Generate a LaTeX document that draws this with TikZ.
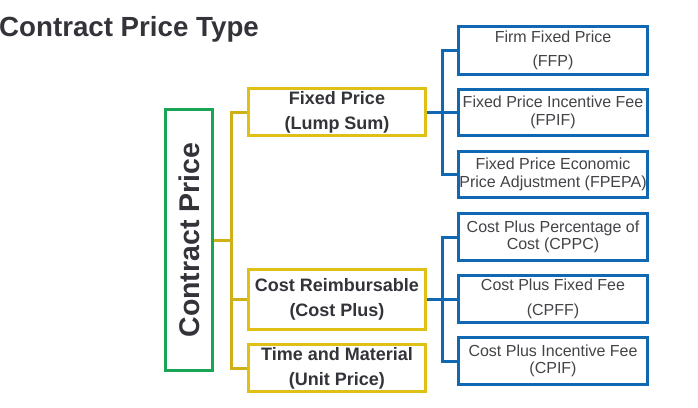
\documentclass[tikz,border=0pt]{standalone}
\usepackage{fontspec}
\setmainfont{Liberation Sans}
\definecolor{cgreen}{RGB}{26,164,86}
\definecolor{cyellow}{RGB}{224,192,20}
\definecolor{cyline}{RGB}{206,176,24}
\definecolor{cblue}{RGB}{16,104,178}
\definecolor{ctext}{RGB}{51,51,58}
\definecolor{cbtext}{RGB}{68,68,72}
\begin{document}
\begin{tikzpicture}[x=1pt,y=-1pt,
  ybox/.style={draw=cyellow,line width=3pt,fill=white,minimum width=177pt,inner sep=0pt,
    text=ctext,align=center,font=\fontsize{18}{25}\selectfont\bfseries},
  bbox/.style={draw=cblue,line width=3pt,fill=white,minimum width=189pt,inner sep=0pt,
    text=cbtext,align=center,font=\fontsize{16}{17.5}\selectfont},
  yline/.style={draw=cyline,line width=3pt},
  bline/.style={draw=cblue,line width=3pt}]
\useasboundingbox (0,0) rectangle (698,407);
\node[anchor=base west,inner sep=0pt,text=ctext,font=\fontsize{27.7}{30}\selectfont\bfseries] (title) at (-1,36) {Contract Price Type};
% green root
\node[draw=cgreen,line width=3pt,minimum width=47pt,minimum height=261pt,inner sep=0pt] (root) at (189,240) {};
\node[rotate=90,inner sep=0pt,text=ctext,font=\fontsize{28.5}{30}\selectfont\bfseries] (roottext) at (root.center) {Contract Price};
% yellow boxes
\node[ybox,minimum height=47pt] (fp) at (337,112) {Fixed Price\\(Lump Sum)};
\node[ybox,minimum height=60pt] (cr) at (337,299.5) {Cost Reimbursable\\(Cost Plus)};
\node[ybox,minimum height=47pt] (tm) at (337,368) {Time and Material\\(Unit Price)};
% blue boxes
\node[bbox,minimum height=48pt] (ffp) at (553,50.5) {Firm Fixed Price\\[7pt](FFP)};
\node[bbox,minimum height=46pt] (fpif) at (553,112.5) {Fixed Price Incentive Fee\\(FPIF)};
\node[bbox,minimum height=46pt] (fpepa) at (553,174.5) {Fixed Price Economic\\Price Adjustment (FPEPA)};
\node[bbox,minimum height=47pt] (cppc) at (553,237) {Cost Plus Percentage of\\Cost (CPPC)};
\node[bbox,minimum height=47pt] (cpff) at (553,299) {Cost Plus Fixed Fee\\[7pt](CPFF)};
\node[bbox,minimum height=47pt] (cpif) at (553,361) {Cost Plus Incentive Fee\\(CPIF)};
% yellow connectors
\coordinate (yt) at (231,240);
\draw[yline] (root.east) -- (yt);
\draw[yline] (fp.west) -- (fp.west -| yt) -- (tm.west -| yt) -- (tm.west);
\draw[yline] (cr.west) -- (cr.west -| yt);
% blue connectors
\coordinate (bt) at (442,0);
\draw[bline] (fp.east) -- (fp.east -| bt);
\draw[bline] (ffp.west) -- (ffp.west -| bt) -- (fpepa.west -| bt) -- (fpepa.west);
\draw[bline] (fpif.west) -- (fpif.west -| bt);
\draw[bline] (cr.east) -- (cr.east -| bt);
\draw[bline] (cppc.west) -- (cppc.west -| bt) -- (cpif.west -| bt) -- (cpif.west);
\draw[bline] (cpff.west) -- (cpff.west -| bt);
\end{tikzpicture}
\end{document}
